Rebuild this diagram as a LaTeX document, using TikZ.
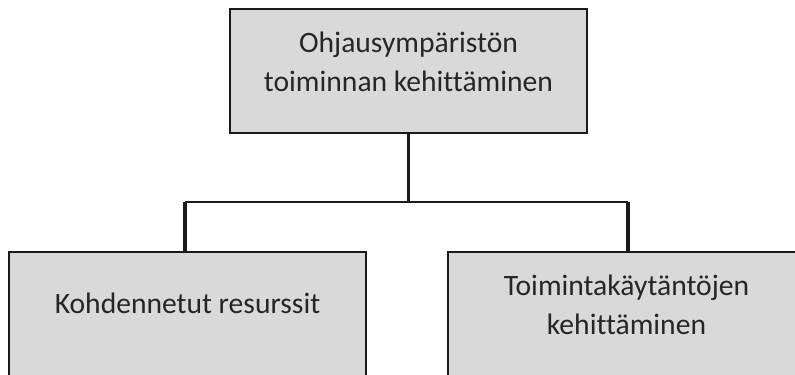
\documentclass[tikz,border=0pt]{standalone}
\usepackage{fontspec}
\setmainfont{Carlito}[Ligatures=NoCommon]
\usetikzlibrary{calc}
\definecolor{boxfill}{HTML}{D9D9D9}
\definecolor{boxline}{HTML}{1A1A1A}
\definecolor{txt}{HTML}{262626}
\begin{document}
\begin{tikzpicture}[x=1bp,y=-1bp,
  orgbox/.style={draw=boxline, line width=1.9bp, fill=boxfill,
    minimum width=357bp, minimum height=124bp, inner sep=0pt},
  boxtext/.style={text=txt, align=center, inner sep=0pt,
    font=\fontsize{29.6bp}{39bp}\selectfont},
  link/.style={draw=boxline, line width=2.2bp},
  drop/.style={draw=boxline, line width=3.4bp}]
\useasboundingbox (0,0) rectangle (795,374);
\clip (0,0) rectangle (795,374);

% boxes
\node[orgbox] (top) at (408.5,71) {};
\node[orgbox] (left) at (187.5,314) {};
\node[orgbox] (right) at (626.5,314) {};

% labels
\node[boxtext] (toptext) at (408.5,61.5) {Ohjausympäristön\\toiminnan kehittäminen};
\node[boxtext] (lefttext) at (187.5,303) {Kohdennetut resurssit};
\node[boxtext] (righttext) at (626.5,305) {Toimintakäytäntöjen\\kehittäminen};

% connectors
\coordinate (j) at (408.5,202);
\coordinate (jl) at (185,202);
\coordinate (jr) at (628,202);
\draw[link] (top.south) -- (j);
\draw[link] (jl) -- (jr);
\draw[drop] (jl) -- (jl |- left.north);
\draw[drop] (jr) -- (jr |- right.north);
\end{tikzpicture}
\end{document}
